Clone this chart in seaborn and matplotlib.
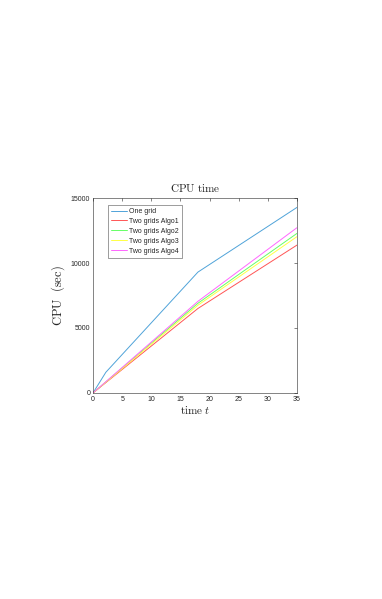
import numpy as np
import pandas as pd
import matplotlib
matplotlib.use('Agg')
import matplotlib.pyplot as plt
from matplotlib.lines import Line2D
import seaborn as sns

# 数据
t_one = [0, 2.2, 18, 35]
cpu_one = [0, 1590, 9300, 14280]
t_two = [0, 18, 35]
cpu_algo1 = [0, 6500, 11380]
cpu_algo2 = [0, 6900, 12280]
cpu_algo3 = [0, 6750, 12030]
cpu_algo4 = [0, 7050, 12720]

labels = ['One grid', 'Two grids Algo1', 'Two grids Algo2', 'Two grids Algo3', 'Two grids Algo4']
colors = ['#4fa3d9', '#ff5555', '#66ff66', '#ffff44', '#ff66ff']

frames = [pd.DataFrame({'t': t_one, 'cpu': cpu_one, 'method': labels[0]})]
for lab, vals in zip(labels[1:], [cpu_algo1, cpu_algo2, cpu_algo3, cpu_algo4]):
    frames.append(pd.DataFrame({'t': t_two, 'cpu': vals, 'method': lab}))
df = pd.concat(frames, ignore_index=True)

sns.set_theme(style='white')
plt.rcParams['font.family'] = ['Liberation Sans', 'DejaVu Sans']
plt.rcParams['mathtext.fontset'] = 'cm'

fig = plt.figure(figsize=(3.82, 5.99), dpi=100)
ax = fig.add_axes([0.2435, 0.344, 0.534, 0.3254])
sns.lineplot(data=df, x='t', y='cpu', hue='method', hue_order=labels,
             palette=colors, linewidth=0.7, ax=ax, sort=False, estimator=None,
             legend=False)

ax.set_xlim(0, 35)
ax.set_ylim(0, 15000)
ax.set_xticks(np.arange(0, 36, 5))
ax.set_yticks([0, 5000, 10000, 15000])
ax.tick_params(direction='in', length=2, width=0.4, labelsize=5, pad=2,
               top=True, right=True, colors='#262626')
for s in ax.spines.values():
    s.set_linewidth(0.4)
    s.set_color('#262626')

ax.set_title(r'$\mathrm{CPU\ time}$', fontsize=8, pad=4)
ax.set_xlabel(r'$\mathrm{time}\ t$', fontsize=8, labelpad=1)
ax.set_ylabel(r'$\mathrm{CPU}\ \ (\mathrm{sec})$', fontsize=9, labelpad=3)

handles = [Line2D([0], [0], color=c, linewidth=0.7) for c in colors]
leg = ax.legend(handles, labels, loc='upper left',
                bbox_to_anchor=(0.075, 0.965), fontsize=5,
                frameon=True, fancybox=False, edgecolor='#262626',
                handlelength=2.3, handletextpad=0.3, borderpad=0.45,
                labelspacing=0.42, borderaxespad=0)
leg.get_frame().set_linewidth(0.4)

fig.savefig('out.png', dpi=100)
